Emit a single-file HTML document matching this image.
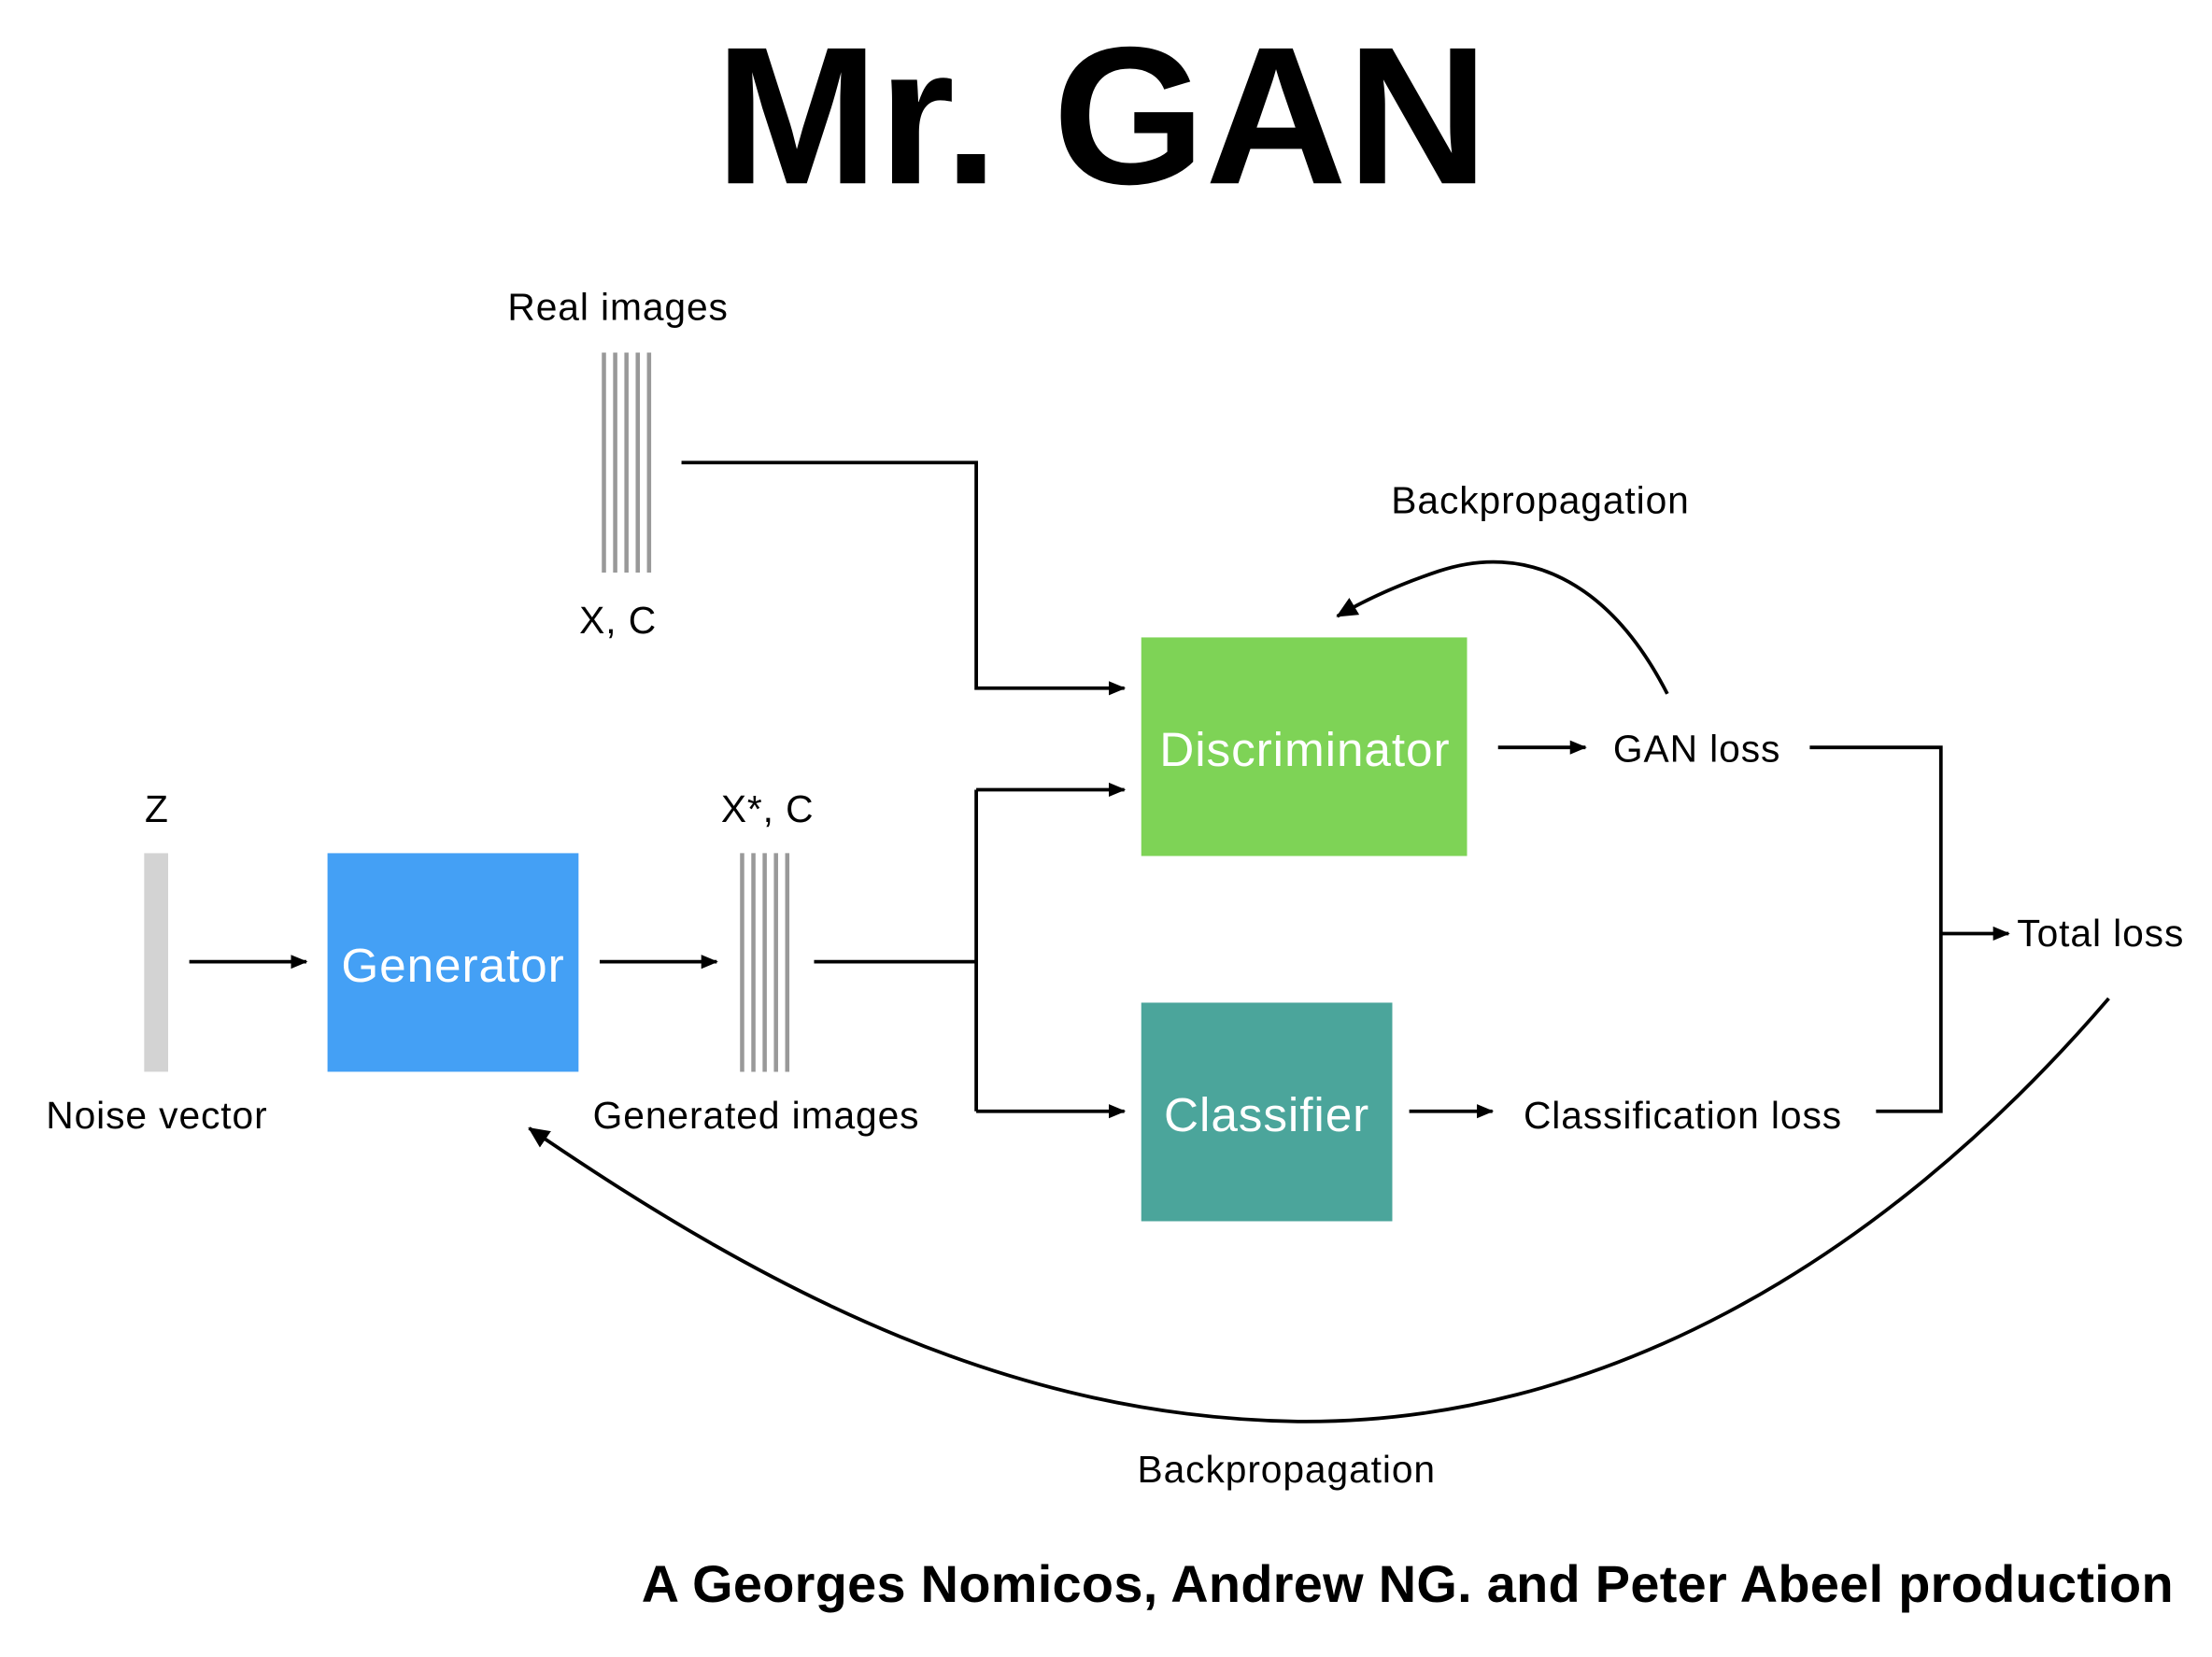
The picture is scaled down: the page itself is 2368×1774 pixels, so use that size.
<!DOCTYPE html>
<html><head><meta charset="utf-8"><style>
html,body{margin:0;padding:0;background:#fff;}
svg{display:block;}
text{font-family:"Liberation Sans",sans-serif;}
</style></head><body>
<svg width="2368" height="1774" viewBox="0 0 1568 1175" xmlns="http://www.w3.org/2000/svg">
<defs>
<marker id="a" markerWidth="12" markerHeight="12" refX="11" refY="6" orient="auto" markerUnits="userSpaceOnUse">
<path d="M0,1 L12,6 L0,11 z" fill="#000"/></marker>
<marker id="b" markerWidth="16" markerHeight="16" refX="14" refY="8" orient="auto" markerUnits="userSpaceOnUse">
<path d="M0,1 L15,8 L0,15 z" fill="#000"/></marker>
</defs>
<rect width="1568" height="1175" fill="#fff"/>
<text x="781" y="130" font-size="139" font-weight="bold" text-anchor="middle">Mr. GAN</text>

<g font-size="27" text-anchor="middle" fill="#000" letter-spacing="0.6">
<text x="438" y="227">Real images</text>
<text x="438" y="449">X, C</text>
<text x="1092" y="364">Backpropagation</text>
<text x="1203" y="540">GAN loss</text>
<text x="111" y="583">Z</text>
<text x="111" y="800">Noise vector</text>
<text x="544" y="583">X*, C</text>
<text x="536" y="800">Generated images</text>
<text x="1193" y="800">Classification loss</text>
<text x="912" y="1051">Backpropagation</text>
</g>
<text x="1430" y="671" font-size="27" letter-spacing="0.6">Total loss</text>

<g stroke="#999" stroke-width="3">
<line x1="428" y1="250" x2="428" y2="406"/><line x1="436" y1="250" x2="436" y2="406"/>
<line x1="444" y1="250" x2="444" y2="406"/><line x1="452" y1="250" x2="452" y2="406"/>
<line x1="460" y1="250" x2="460" y2="406"/>
<line x1="526" y1="605" x2="526" y2="760"/><line x1="534" y1="605" x2="534" y2="760"/>
<line x1="542" y1="605" x2="542" y2="760"/><line x1="550" y1="605" x2="550" y2="760"/>
<line x1="558" y1="605" x2="558" y2="760"/>
</g>
<rect x="102" y="605" width="17" height="155" fill="#d3d3d3"/>

<rect x="809" y="452" width="231" height="155" fill="#7ED356"/>
<rect x="232" y="605" width="178" height="155" fill="#44A0F5"/>
<rect x="809" y="711" width="178" height="155" fill="#4BA59B"/>
<g font-size="34" fill="#fff" text-anchor="middle" letter-spacing="0.6">
<text x="925" y="543">Discriminator</text>
<text x="321" y="696">Generator</text>
<text x="898" y="802">Classifier</text>
</g>

<g stroke="#000" stroke-width="2.5" fill="none">
<polyline points="483,328 692,328 692,488 797,488" marker-end="url(#a)"/>
<polyline points="577,682 692,682"/>
<polyline points="692,560 692,788"/>
<line x1="692" y1="560" x2="797" y2="560" marker-end="url(#a)"/>
<line x1="692" y1="788" x2="797" y2="788" marker-end="url(#a)"/>
<line x1="134" y1="682" x2="217" y2="682" marker-end="url(#a)"/>
<line x1="425" y1="682" x2="508" y2="682" marker-end="url(#a)"/>
<line x1="1062" y1="530" x2="1124" y2="530" marker-end="url(#a)"/>
<line x1="999" y1="788" x2="1058" y2="788" marker-end="url(#a)"/>
<polyline points="1283,530 1376,530 1376,788 1330,788"/>
<line x1="1376" y1="662" x2="1424" y2="662" marker-end="url(#a)"/>
<path d="M1182,492 C1140,410 1080,385 1020,405 C990,415 965,427 948,437" marker-end="url(#b)"/>
<path d="M1495,708 C1330,900 1130,1010 920,1008 C720,1005 550,920 375,800" marker-end="url(#b)"/>
</g>

<text x="1541" y="1136" font-size="37" font-weight="bold" text-anchor="end" letter-spacing="0.2">A Georges Nomicos, Andrew NG. and Peter Abeel production</text>
</svg>
</body></html>
